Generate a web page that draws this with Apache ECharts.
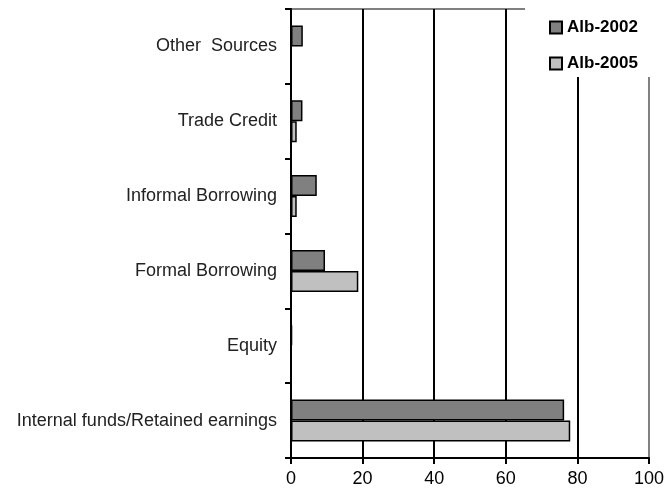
<!DOCTYPE html>
<html lang="en">
<head>
    <meta charset="UTF-8">
    <title>Alb sources of finance</title>
    <script src="https://cdn.jsdelivr.net/npm/echarts@6/dist/echarts.min.js"></script>
    <style>
        html, body { margin: 0; padding: 0; background: #fff; }
        #main { width: 667px; height: 493px; }
    </style>
</head>
<body>
<div id="main"></div>
<script>
    // categories, top to bottom
    var categories = ['Other  Sources', 'Trade Credit', 'Informal Borrowing', 'Formal Borrowing', 'Equity', 'Internal funds/Retained earnings'];
    var alb2002 = [3.3, 3.2, 7.2, 9.5, 0.3, 76.3];
    var alb2005 = [0, 1.6, 1.6, 18.8, 0, 78];
    var xTicks = [0, 20, 40, 60, 80, 100];

    var myChart = echarts.init(document.getElementById('main'));
    var font = 'Liberation Sans, Arial, sans-serif';

    var option = {
        animation: false,
        textStyle: { fontFamily: font },
        grid: {
            left: 291, right: 17, top: 9, bottom: 35,
            show: true,
            borderColor: '#808080',
            borderWidth: 2,
            backgroundColor: 'transparent'
        },
        legend: {
            orient: 'vertical',
            left: 525,
            top: 0,
            padding: [19, 60, 5, 24],
            backgroundColor: '#fff',
            itemWidth: 12,
            itemHeight: 12,
            itemGap: 19,
            icon: 'rect',
            textStyle: { fontSize: 17, fontWeight: 'bold', color: '#000', fontFamily: font },
            data: ['Alb-2002', 'Alb-2005']
        },
        xAxis: {
            type: 'value',
            min: xTicks[0],
            max: xTicks[xTicks.length - 1],
            interval: 20,
            axisLine: { show: true, lineStyle: { color: '#000', width: 2 } },
            axisTick: { show: true, length: 6, lineStyle: { color: '#000', width: 2 } },
            axisLabel: { fontSize: 18, color: '#000', margin: 12 },
            splitLine: { show: true, showMaxLine: false, lineStyle: { color: '#000', width: 2 } }
        },
        yAxis: {
            type: 'category',
            inverse: true,
            data: categories,
            axisLine: { show: true, lineStyle: { color: '#000', width: 2 } },
            axisTick: { show: true, length: 6, lineStyle: { color: '#000', width: 2 } },
            axisLabel: { fontSize: 18, color: '#222', margin: 14 }
        },
        series: [
            {
                name: 'Alb-2002',
                type: 'bar',
                data: alb2002,
                barWidth: 21,
                barGap: '0%',
                itemStyle: { color: '#808080', borderColor: '#000', borderWidth: 1.5 }
            },
            {
                name: 'Alb-2005',
                type: 'bar',
                data: alb2005,
                barWidth: 21,
                barGap: '0%',
                itemStyle: { color: '#c0c0c0', borderColor: '#000', borderWidth: 1.5 }
            }
        ]
    };
    myChart.setOption(option);
</script>
</body>
</html>
